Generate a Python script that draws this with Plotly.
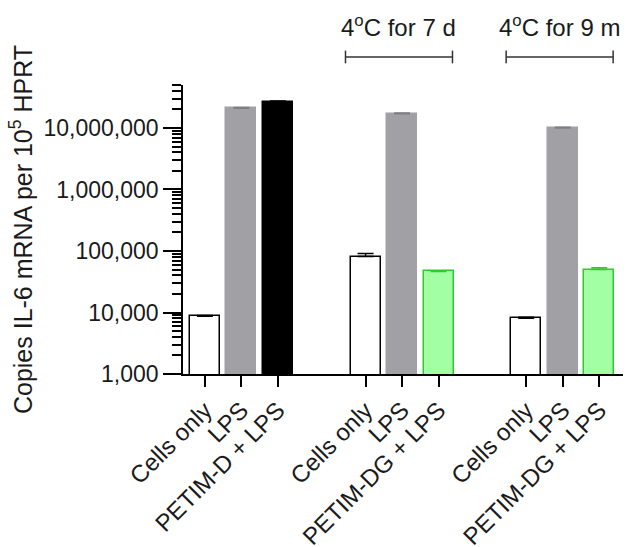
import plotly.graph_objects as go

# ---- data ----
groups = ["", "4<sup>o</sup>C for 7 d", "4<sup>o</sup>C for 9 m"]
labels = [
    ["Cells only", "LPS", "PETIM-D + LPS"],
    ["Cells only", "LPS", "PETIM-DG + LPS"],
    ["Cells only", "LPS", "PETIM-DG + LPS"],
]
values = [
    [8700, 21000000, 26000000],
    [81000, 17000000, 46500],
    [8100, 10000000, 50000],
]
errors = [
    [200, 600000, 1500000],
    [10000, 500000, 1000],
    [300, 300000, 3500],
]
y_tickvals = [1e3, 1e4, 1e5, 1e6, 1e7]
y_ticktext = ["1,000", "10,000", "100,000", "1,000,000", "10,000,000"]

# ---- styles ----
fills = [["#ffffff", "#a1a1a5", "#000000"],
         ["#ffffff", "#a1a1a5", "#a3ffa3"],
         ["#ffffff", "#a1a1a5", "#a3ffa3"]]
edges = [["#000000", "#a1a1a5", "#000000"],
         ["#000000", "#a1a1a5", "#2ccc2c"],
         ["#000000", "#a1a1a5", "#2ccc2c"]]
errcols = [["#000000", "#808084", "#000000"],
           ["#000000", "#808084", "#2ccc2c"],
           ["#000000", "#808084", "#2ccc2c"]]
GROUP_STEP = 4.4
FONT = "Liberation Sans, Arial, sans-serif"
TXT = "#1a1a1a"

fig = go.Figure()
tickvals, ticktext = [], []
for g in range(len(labels)):
    for i in range(len(labels[g])):
        x = g * GROUP_STEP + i
        tickvals.append(x)
        ticktext.append(labels[g][i])
        fig.add_trace(go.Bar(
            x=[x], y=[values[g][i]], width=0.82,
            marker=dict(color=fills[g][i], line=dict(color=edges[g][i], width=1.5)),
            error_y=dict(type="data", symmetric=False, array=[errors[g][i]],
                         arrayminus=[0], color=errcols[g][i], thickness=1.5, width=8),
            showlegend=False, hoverinfo="skip",
        ))

# brackets + labels for groups 2 and 3
for g in range(1, len(groups)):
    x0 = g * GROUP_STEP - 0.55
    x1 = g * GROUP_STEP + len(labels[g]) - 1 + 0.38
    yb = 1.097
    fig.add_shape(type="line", xref="x", yref="paper", x0=x0, x1=x1, y0=yb, y1=yb,
                  line=dict(color="#333333", width=1.5))
    for xe in (x0, x1):
        fig.add_shape(type="line", xref="x", yref="paper", x0=xe, x1=xe,
                      y0=yb - 0.022, y1=yb + 0.022, line=dict(color="#333333", width=1.5))
    fig.add_annotation(x=(x0 + x1) / 2, y=1.205, xref="x", yref="paper", text=groups[g],
                       showarrow=False, font=dict(size=24, color=TXT, family=FONT),
                       yanchor="middle")

minor_vals = [m * 10 ** e for e in range(3, 8) for m in range(2, 10) if m * 10 ** e <= 5e7]

fig.update_layout(
    width=628, height=547,
    margin=dict(l=183, r=5, t=85, b=173),
    plot_bgcolor="white", paper_bgcolor="white",
    font=dict(family=FONT, size=22, color=TXT),
    bargap=0,
    xaxis=dict(range=[-0.6, 11.45], tickmode="array", tickvals=tickvals, ticktext=ticktext,
               tickangle=-45, showline=True, linecolor="black", linewidth=1.5,
               ticks="outside", ticklen=11, tickwidth=1.5, tickcolor="black",
               showgrid=False, zeroline=False, tickfont=dict(size=24), automargin=False),
    yaxis=dict(type="log", range=[3, 7.699], tickmode="array", tickvals=y_tickvals,
               ticktext=y_ticktext, showline=True, linecolor="black", linewidth=1.5,
               ticks="outside", ticklen=18, tickwidth=1.5, tickcolor="black",
               showgrid=False, zeroline=False, tickfont=dict(size=23),
               ticklabelstandoff=0, automargin=False,
               minor=dict(tickmode="array", tickvals=minor_vals, ticks="outside",
                          ticklen=9, tickwidth=1.5, tickcolor="black", showgrid=False),
               title=dict(text="Copies IL-6 mRNA per 10<sup>5</sup> HPRT",
                          font=dict(size=25), standoff=4)),
)

fig.write_html("out.html")
